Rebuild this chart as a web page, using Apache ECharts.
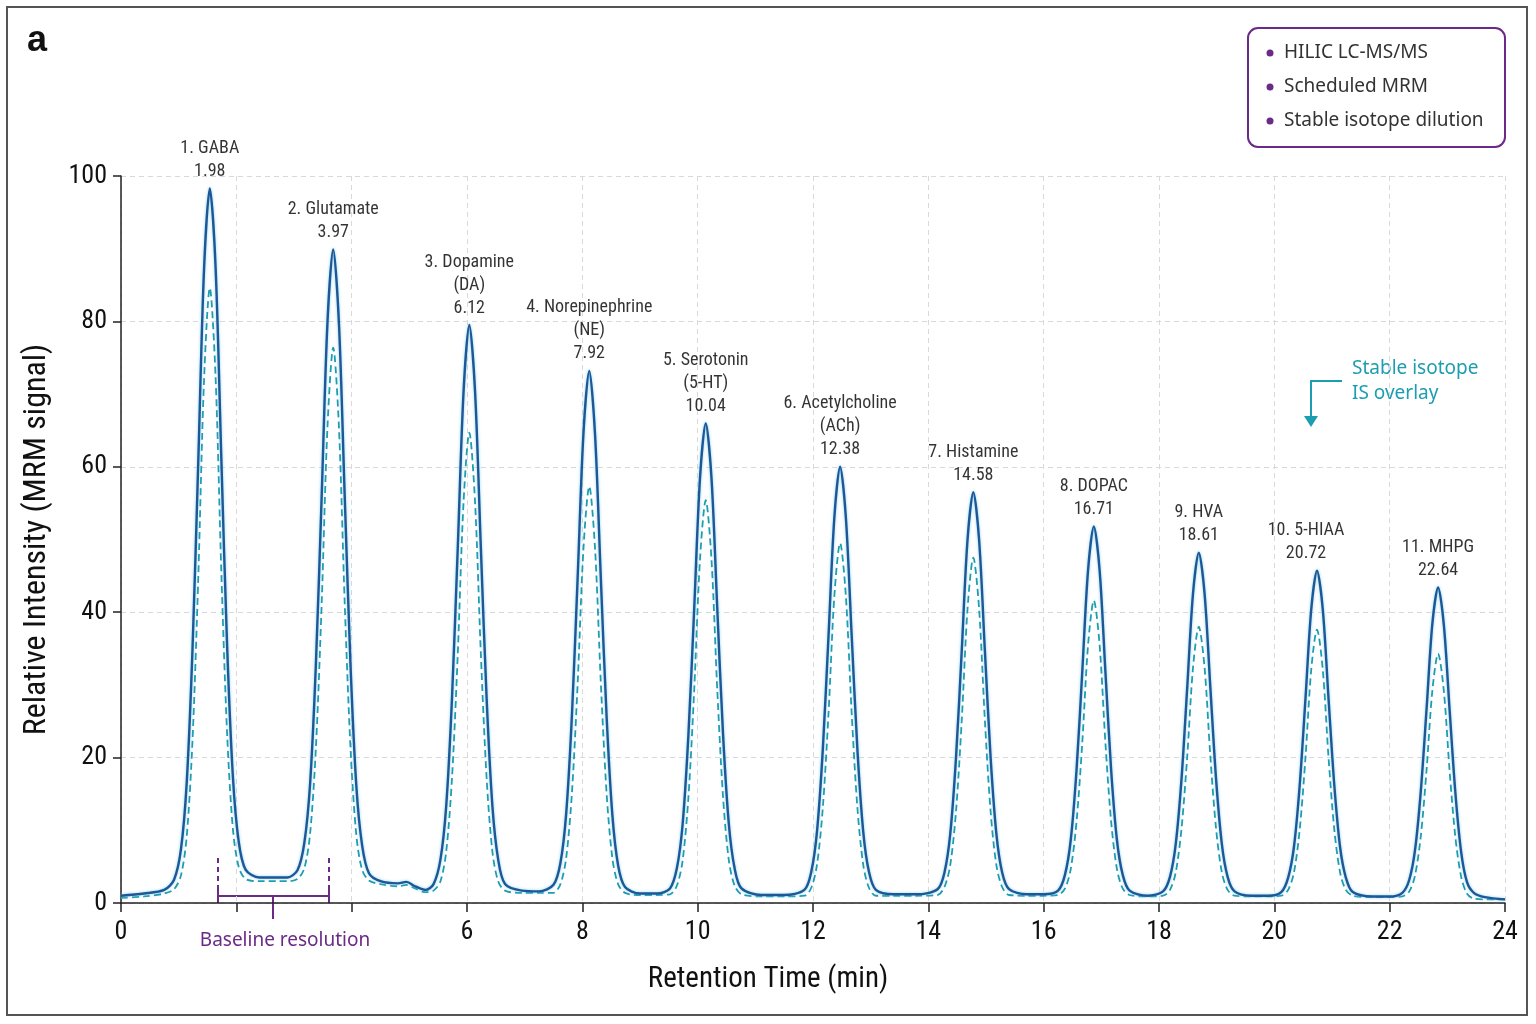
<!DOCTYPE html>
<html>
<head>
<meta charset="utf-8">
<script src="https://cdn.jsdelivr.net/npm/echarts@6/dist/echarts.min.js"></script>
<style>
  html, body { margin: 0; padding: 0; background: #fff; }
  #chromatogram { width: 1536px; height: 1024px; }
</style>
</head>
<body>
<div id="chromatogram"></div>
<script>
// peak annotations
const peakNames = ['1. GABA', '2. Glutamate', '3. Dopamine\n(DA)', '4. Norepinephrine\n(NE)', '5. Serotonin\n(5-HT)',
  '6. Acetylcholine\n(ACh)', '7. Histamine', '8. DOPAC', '9. HVA', '10. 5-HIAA', '11. MHPG']
const peakRTLabels = ['1.98', '3.97', '6.12', '7.92', '10.04', '12.38', '14.58', '16.71', '18.61', '20.72', '22.64']
// apex position (min) and apex height of the analyte trace as drawn
const peakTimes = [1.54, 3.68, 6.04, 8.12, 10.14, 12.47, 14.78, 16.87, 18.69, 20.74, 22.84]
const peakTops = [98.3, 89.9, 79.5, 73.2, 66.0, 60.0, 56.5, 51.8, 48.2, 45.7, 43.4]

const xTickLabels = ['0', '', '', '6', '8', '10', '12', '14', '16', '18', '20', '22', '24']
const legendItems = ['HILIC LC-MS/MS', 'Scheduled MRM', 'Stable isotope dilution']

// analyte MRM trace [time, intensity]
const analyteTrace = [
  [0,1.0],[0.4,1.3],[0.75,1.8],
  [0.92,3.2],[1.04,7.4],[1.14,16.6],[1.24,34.9],[1.34,60.7],[1.44,87.2],[1.54,98.3],[1.64,87.5],[1.74,61.1],[1.84,35.4],[1.94,17.4],[2.04,8.5],[2.16,4.6],
  [2.4,3.5],[2.7,3.5],[2.88,3.5],
  [3.06,4.5],[3.18,8.3],[3.28,16.5],[3.38,32.9],[3.48,56.0],[3.58,79.8],[3.68,89.9],[3.78,79.6],[3.88,55.8],[3.98,32.7],[4.08,16.2],[4.18,8.0],[4.30,4.1],
  [4.5,3.0],[4.8,2.7],[4.95,2.9],[5.1,2.3],[5.28,1.8],
  [5.42,2.6],[5.54,6.0],[5.64,13.4],[5.74,28.2],[5.84,48.9],[5.94,70.3],[6.04,79.5],[6.14,70.3],[6.24,48.9],[6.34,28.2],[6.44,13.4],[6.54,6.0],[6.66,2.6],
  [6.95,1.7],[7.25,1.6],
  [7.50,2.5],[7.62,5.5],[7.72,12.3],[7.82,25.9],[7.92,45.0],[8.02,64.7],[8.12,73.2],[8.22,64.5],[8.32,44.8],[8.42,25.8],[8.52,12.2],[8.62,5.2],[8.74,2.2],
  [9.0,1.3],[9.3,1.3],
  [9.52,2.0],[9.64,4.8],[9.74,10.9],[9.84,23.2],[9.94,40.5],[10.04,58.4],[10.14,66.0],[10.24,58.4],[10.34,40.5],[10.44,23.2],[10.54,10.9],[10.64,4.8],[10.76,2.0],
  [11.1,1.1],[11.5,1.1],
  [11.85,1.8],[11.97,4.3],[12.07,9.9],[12.17,21.1],[12.27,36.9],[12.37,53.0],[12.47,60.0],[12.57,53.0],[12.67,36.9],[12.77,21.1],[12.87,9.9],[12.97,4.3],[13.09,1.8],
  [13.4,1.2],[13.8,1.2],
  [14.16,1.9],[14.28,4.2],[14.38,9.5],[14.48,20.0],[14.58,34.8],[14.68,50.0],[14.78,56.5],[14.88,50.0],[14.98,34.8],[15.08,20.0],[15.18,9.5],[15.28,4.2],[15.40,1.9],
  [15.7,1.2],[16.0,1.2],
  [16.25,1.7],[16.37,3.9],[16.47,8.7],[16.57,18.3],[16.67,31.9],[16.77,45.8],[16.87,51.8],[16.97,45.8],[17.07,31.9],[17.17,18.3],[17.27,8.7],[17.37,3.9],[17.49,1.7],
  [17.8,1.0],
  [18.07,1.6],[18.19,3.6],[18.29,8.1],[18.39,17.0],[18.49,29.7],[18.59,42.6],[18.69,48.2],[18.79,42.6],[18.89,29.7],[18.99,17.0],[19.09,8.1],[19.19,3.6],[19.31,1.6],
  [19.6,1.0],[19.9,1.0],
  [20.12,1.5],[20.24,3.5],[20.34,7.7],[20.44,16.2],[20.54,28.1],[20.64,40.4],[20.74,45.7],[20.84,40.4],[20.94,28.1],[21.04,16.2],[21.14,7.7],[21.24,3.5],[21.36,1.5],
  [21.7,0.9],[22.0,0.9],
  [22.22,1.4],[22.34,3.2],[22.44,7.3],[22.54,15.4],[22.64,26.7],[22.74,38.4],[22.84,43.4],[22.94,38.2],[23.04,26.5],[23.14,15.1],[23.24,7.0],[23.34,2.9],[23.46,1.4],[23.65,0.8],
  [24.0,0.5]
]

// stable isotope internal standard trace (dashed)
const isTrace = [
  [0,0.7],[0.4,0.9],[0.75,1.3],
  [0.92,1.9],[1.04,3.8],[1.14,9.2],[1.24,22.4],[1.34,44.8],[1.44,72.0],[1.54,84.6],[1.64,72.4],[1.74,45.5],[1.84,23.3],[1.94,10.2],[2.04,5.0],[2.16,3.3],
  [2.4,3.0],[2.7,3.0],[2.88,3.0],
  [3.06,3.3],[3.18,4.8],[3.28,9.6],[3.38,21.4],[3.48,41.2],[3.58,65.4],[3.68,76.4],[3.78,65.3],[3.88,41.1],[3.98,21.3],[4.08,9.4],[4.18,4.6],[4.30,3.1],
  [4.5,2.6],[4.8,2.3],[4.95,2.5],[5.1,2.0],[5.28,1.5],
  [5.42,1.7],[5.54,3.0],[5.64,7.1],[5.74,17.2],[5.84,34.3],[5.94,55.1],[6.04,64.7],[6.14,55.1],[6.24,34.3],[6.34,17.2],[6.44,7.1],[6.54,3.0],[6.66,1.7],
  [6.95,1.4],[7.25,1.4],
  [7.50,1.4],[7.62,2.6],[7.72,6.2],[7.82,15.2],[7.92,30.4],[8.02,48.8],[8.12,57.3],[8.22,48.8],[8.32,30.4],[8.42,15.2],[8.52,6.2],[8.62,2.6],[8.74,1.4],
  [9.0,1.1],[9.3,1.1],
  [9.52,1.2],[9.64,2.4],[9.74,5.9],[9.84,14.6],[9.94,29.3],[10.04,47.2],[10.14,55.4],[10.24,47.2],[10.34,29.3],[10.44,14.6],[10.54,5.9],[10.64,2.4],[10.76,1.2],
  [11.1,0.9],[11.5,0.9],
  [11.85,1.0],[11.97,2.1],[12.07,5.3],[12.17,13.1],[12.27,26.2],[12.37,42.2],[12.47,49.5],[12.57,42.2],[12.67,26.2],[12.77,13.1],[12.87,5.3],[12.97,2.1],[13.09,1.0],
  [13.4,1.0],[13.8,1.0],
  [14.16,1.1],[14.28,2.2],[14.38,5.2],[14.48,12.6],[14.58,25.2],[14.68,40.5],[14.78,47.5],[14.88,40.5],[14.98,25.2],[15.08,12.6],[15.18,5.2],[15.28,2.2],[15.40,1.1],
  [15.7,1.0],[16.0,1.0],
  [16.25,1.1],[16.37,2.0],[16.47,4.7],[16.57,11.2],[16.67,22.1],[16.77,35.5],[16.87,41.6],[16.97,35.5],[17.07,22.1],[17.17,11.2],[17.27,4.7],[17.37,2.0],[17.49,1.1],
  [17.8,0.9],
  [18.07,1.0],[18.19,1.8],[18.29,4.2],[18.39,10.2],[18.49,20.2],[18.59,32.4],[18.69,38.0],[18.79,32.4],[18.89,20.2],[18.99,10.2],[19.09,4.2],[19.19,1.8],[19.31,1.0],
  [19.6,0.9],[19.9,0.9],
  [20.12,1.0],[20.24,1.8],[20.34,4.2],[20.44,10.1],[20.54,20.0],[20.64,32.1],[20.74,37.6],[20.84,32.1],[20.94,20.0],[21.04,10.1],[21.14,4.2],[21.24,1.8],[21.36,1.0],
  [21.7,0.8],[22.0,0.8],
  [22.22,0.9],[22.34,1.6],[22.44,3.8],[22.54,9.2],[22.64,18.3],[22.74,29.2],[22.84,34.3],[22.94,29.1],[23.04,18.1],[23.14,9.0],[23.24,3.6],[23.34,1.3],[23.46,0.6],
  [23.7,0.5],[24.0,0.5]
]

const narrow = "'Liberation Sans Narrow','Roboto Condensed','DejaVu Sans Condensed',sans-serif"
const soft = "'Noto Sans','Lato',sans-serif"
const purple = '#6a2a86'
const teal = '#1c9db0'

const myChart = echarts.init(document.getElementById('chromatogram'))

const legendGraphics = [{
  type: 'rect',
  shape: {x: 1248, y: 28, width: 257, height: 119, r: 10},
  style: {fill: '#fff', stroke: purple, lineWidth: 2}
}]
legendItems.forEach((txt, i) => {
  legendGraphics.push({
    type: 'circle', shape: {cx: 1270, cy: 53 + i * 34, r: 3.5}, style: {fill: purple}
  })
  legendGraphics.push({
    type: 'text', x: 1284, y: 53 + i * 34,
    style: {text: txt, fill: '#333', font: '19px ' + soft, verticalAlign: 'middle'}
  })
})

const options = {
  animation: false,
  backgroundColor: '#fff',
  grid: {left: 121, right: 31, top: 176, bottom: 121},
  xAxis: {
    type: 'value', min: 0, max: 24, interval: 2,
    name: 'Retention Time (min)', nameLocation: 'middle', nameGap: 62,
    nameTextStyle: {fontFamily: narrow, fontSize: 29, color: '#111', padding: [0, 90, 0, 0]},
    axisLine: {onZero: false, lineStyle: {color: '#222', width: 1.5}},
    axisTick: {length: 9, lineStyle: {color: '#222', width: 1.5}},
    axisLabel: {
      fontFamily: narrow, fontSize: 26, color: '#111', margin: 16,
      formatter: v => xTickLabels[Math.round(v / 2)]
    },
    splitLine: {show: true, lineStyle: {color: '#d9d9d9', type: [5, 4], width: 1}}
  },
  yAxis: {
    type: 'value', min: 0, max: 100, interval: 20,
    name: 'Relative Intensity (MRM signal)', nameLocation: 'middle', nameGap: 68,
    nameTextStyle: {fontFamily: narrow, fontSize: 32, color: '#111'},
    axisLine: {show: true, lineStyle: {color: '#222', width: 1.5}},
    axisTick: {show: true, length: 8, lineStyle: {color: '#222', width: 1.5}},
    axisLabel: {fontFamily: narrow, fontSize: 26, color: '#111', margin: 14},
    splitLine: {show: true, lineStyle: {color: '#d9d9d9', type: [5, 4], width: 1}}
  },
  series: [
    {
      name: 'Stable isotope IS',
      type: 'line',
      data: isTrace,
      smooth: 0.3,
      showSymbol: false,
      lineStyle: {color: teal, width: 1.8, type: [7, 4]},
      z: 3
    },
    {
      name: 'Analyte',
      type: 'line',
      data: analyteTrace,
      smooth: 0.3,
      showSymbol: false,
      lineStyle: {
        color: '#1d5796', width: 2.4,
        shadowColor: 'rgba(110,200,240,0.8)', shadowBlur: 3
      },
      z: 4
    },
    {
      // peak names + retention times sit above each apex
      type: 'scatter',
      silent: true,
      symbolSize: 1,
      itemStyle: {color: 'rgba(0,0,0,0)'},
      data: peakTimes.map((t, i) => ({
        value: [t, peakTops[i]],
        label: {offset: i === 9 ? [-11, 0] : [0, 0]}
      })),
      label: {
        show: true, position: 'top', distance: 5,
        formatter: p => peakNames[p.dataIndex] + '\n' + peakRTLabels[p.dataIndex],
        fontFamily: narrow, fontSize: 18, lineHeight: 23, color: '#000', align: 'center'
      },
      z: 5
    }
  ],
  graphic: [
    {
      type: 'rect', shape: {x: 7, y: 7, width: 1520, height: 1008},
      style: {fill: 'none', stroke: '#555', lineWidth: 2}, silent: true
    },
    {
      type: 'text', x: 27, y: 41,
      style: {text: 'a', fill: '#111', font: 'bold 36px "Liberation Sans", Arial, sans-serif', verticalAlign: 'middle'}
    },
    ...legendGraphics,
    // IS overlay callout
    {
      type: 'text', x: 1352, y: 356,
      style: {text: 'Stable isotope\nIS overlay', fill: teal, font: '19px ' + soft, lineHeight: 25}
    },
    {
      type: 'polyline', shape: {points: [[1342, 381], [1311, 381], [1311, 418]]},
      style: {stroke: teal, lineWidth: 2, fill: 'none'}
    },
    {
      type: 'polygon', shape: {points: [[1304, 416], [1318, 416], [1311, 427]]},
      style: {fill: teal}
    },
    // baseline resolution bracket
    {
      type: 'line', shape: {x1: 218, y1: 858, x2: 218, y2: 889},
      style: {stroke: purple, lineWidth: 2, lineDash: [5, 4]}
    },
    {
      type: 'line', shape: {x1: 329, y1: 858, x2: 329, y2: 889},
      style: {stroke: purple, lineWidth: 2, lineDash: [5, 4]}
    },
    {
      type: 'polyline', shape: {points: [[218, 888], [218, 903]]}, style: {stroke: purple, lineWidth: 2}
    },
    {
      type: 'polyline', shape: {points: [[329, 888], [329, 903]]}, style: {stroke: purple, lineWidth: 2}
    },
    {
      type: 'line', shape: {x1: 218, y1: 896, x2: 329, y2: 896}, style: {stroke: purple, lineWidth: 2}
    },
    {
      type: 'line', shape: {x1: 273, y1: 896, x2: 273, y2: 919}, style: {stroke: purple, lineWidth: 2}
    },
    {
      type: 'text', x: 285, y: 941,
      style: {text: 'Baseline resolution', fill: purple, font: '19px ' + soft, align: 'center', verticalAlign: 'middle'}
    }
  ]
}

myChart.setOption(options)
</script>
</body>
</html>
